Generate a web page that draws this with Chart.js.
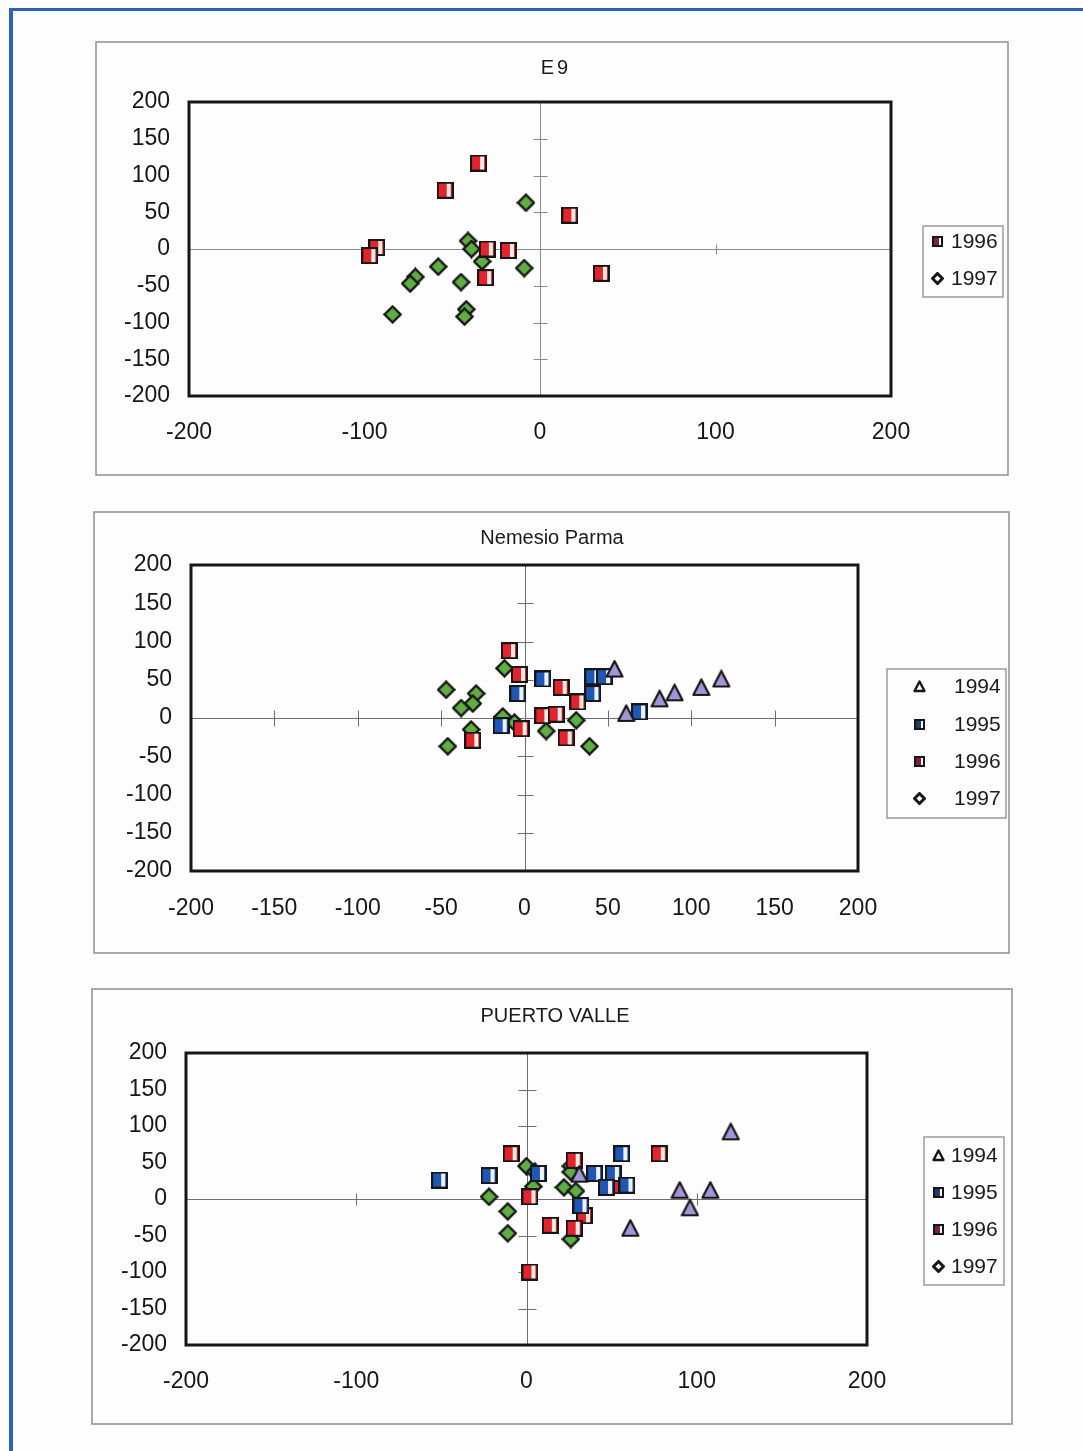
<!DOCTYPE html>
<html>
<head>
<meta charset="utf-8">
<script src="https://cdn.jsdelivr.net/npm/chart.js@4.4.1/dist/chart.umd.min.js"></script>
<style>
  body { margin: 0; background: #fdfdfd; width: 1083px; height: 1451px; position: relative; overflow: hidden; }
  #edgeTop { position: absolute; left: 9px; top: 8px; width: 1074px; height: 3px; background: #2a64b4; }
  #edgeLeft { position: absolute; left: 9px; top: 8px; width: 4px; height: 1443px; background: #2a64b4; }
  canvas { position: absolute; }
</style>
</head>
<body>
<div id="edgeTop"></div>
<div id="edgeLeft"></div>
<canvas id="e9" width="914" height="435" style="left:95px;top:41px"></canvas>
<canvas id="nemesio" width="917" height="443" style="left:93px;top:511px"></canvas>
<canvas id="puerto" width="922" height="437" style="left:91px;top:988px"></canvas>
<script>
// ---- data: [x, y] pairs ----
const e9_1996 = [[-35, 117], [-54, 80], [17, 46], [35, -33], [-93, 2], [-97, -9], [-30, 0], [-18, -2], [-31, -39]];
const e9_1997 = [[-8, 63], [-41, 11], [-39, 0], [-33, -17], [-9, -26], [-58, -24], [-71, -38], [-74, -47],
                 [-45, -45], [-84, -89], [-42, -82], [-43, -92]];

const np_1994 = [[54, 64], [61, 6], [81, 25], [90, 33], [106, 40], [118, 51]];
const np_1995 = [[11, 51], [41, 54], [48, 54], [41, 32], [-4, 32], [69, 8], [-14, -10]];
const np_1996 = [[-9, 88], [-3, 57], [22, 40], [32, 21], [11, 3], [19, 5], [-2, -14], [25, -26], [-31, -29]];
const np_1997 = [[-12, 65], [-47, 37], [-29, 32], [-31, 19], [-38, 13], [-13, 2], [-6, -6], [-32, -15],
                 [13, -17], [31, -3], [-46, -37], [39, -37]];

const pv_1994 = [[120, 92], [61, -40], [90, 12], [108, 12], [96, -12], [31, 34]];
const pv_1995 = [[-51, 26], [-22, 32], [56, 62], [40, 35], [51, 35], [47, 16], [59, 19], [32, -9], [7, 35]];
const pv_1996 = [[-9, 62], [78, 62], [28, 53], [55, 18], [2, 3], [34, -23], [14, -36], [28, -40], [2, -100]];
const pv_1997 = [[0, 45], [5, 37], [4, 17], [-22, 3], [-11, -17], [-11, -47], [26, 45], [26, 37], [22, 16],
                 [29, 11], [26, -55]];

const axisMin = -200, axisMax = 200, yStep = 50;

// ---- marker images ----
function squareMark(size, fill, stripe) {
  const c = document.createElement('canvas');
  c.width = c.height = size;
  const g = c.getContext('2d');
  g.fillStyle = '#161616'; g.fillRect(0, 0, size, size);
  g.fillStyle = fill; g.fillRect(2, 2, size - 4, size - 4);
  g.fillStyle = stripe; g.fillRect(Math.round(size * 0.6), 2, Math.round(size * 0.22), size - 4);
  return c;
}
function diamondMark(size, fill, line) {
  const c = document.createElement('canvas');
  c.width = c.height = size;
  const g = c.getContext('2d'), h = size / 2, r = h - 1.5;
  g.beginPath();
  g.moveTo(h, h - r); g.lineTo(h + r, h); g.lineTo(h, h + r); g.lineTo(h - r, h); g.closePath();
  g.fillStyle = fill; g.fill();
  g.lineWidth = line; g.strokeStyle = '#161616'; g.stroke();
  return c;
}
function triangleMark(size, fill, line) {
  const c = document.createElement('canvas');
  c.width = c.height = size;
  const g = c.getContext('2d'), h = size / 2;
  g.beginPath();
  g.moveTo(h, 1.5); g.lineTo(size - 1.5, size - 2); g.lineTo(1.5, size - 2); g.closePath();
  g.fillStyle = fill; g.fill();
  g.lineWidth = line; g.strokeStyle = '#161616'; g.lineJoin = 'round'; g.stroke();
  return c;
}

const marks = {
  '1994': triangleMark(19, '#a594d8', 2.2),
  '1995': squareMark(17, '#1f57b8', '#eef2fa'),
  '1996': squareMark(17, '#e4232c', '#f8ece4'),
  '1997': diamondMark(19, '#5fae41', 2.4)
};
const legendMarks = {
  '1994': triangleMark(13, '#ffffff', 2.4),
  '1995': squareMark(11, '#1e3d6b', '#ffffff'),
  '1996': squareMark(11, '#7c2433', '#ffffff'),
  '1997': diamondMark(13, '#ffffff', 3)
};

function series(label, pairs) {
  return {
    label: label,
    data: pairs.map(p => ({ x: p[0], y: p[1] })),
    pointStyle: marks[label],
    pointRadius: 8
  };
}

// frame, centre axes, title and legend box
const decor = {
  id: 'decor',
  beforeDatasetsDraw(chart, args, o) {
    const { ctx, chartArea: a, scales: { x, y } } = chart;
    const x0 = Math.round(x.getPixelForValue(0)) + 0.5;
    const y0 = Math.round(y.getPixelForValue(0)) + 0.5;
    ctx.save();
    ctx.strokeStyle = o.axisColor;
    ctx.lineWidth = 1;
    ctx.beginPath();
    ctx.moveTo(a.left, y0); ctx.lineTo(a.right, y0);
    ctx.moveTo(x0, a.top); ctx.lineTo(x0, a.bottom);
    for (let v = axisMin + yStep; v < axisMax; v += yStep) {
      if (v === 0) continue;
      const p = Math.round(y.getPixelForValue(v)) + 0.5;
      ctx.moveTo(x0 - o.yMark, p); ctx.lineTo(x0 + o.yMark, p);
    }
    o.xMarks.forEach(v => {
      const p = Math.round(x.getPixelForValue(v)) + 0.5;
      ctx.moveTo(p, y0 - o.xMark); ctx.lineTo(p, y0 + o.xMark);
    });
    ctx.stroke();
    ctx.restore();
  },
  afterDraw(chart, args, o) {
    const { ctx, chartArea: a, width, height } = chart;
    ctx.save();
    // outer gray box
    ctx.strokeStyle = '#8e8e8e';
    ctx.lineWidth = 1.5;
    ctx.strokeRect(1, 1, width - 2, height - 2);
    // plot frame
    ctx.strokeStyle = '#161616';
    ctx.lineWidth = 3;
    ctx.strokeRect(a.left, a.top, a.right - a.left, a.bottom - a.top);
    // title
    ctx.fillStyle = '#1a1a1a';
    ctx.font = '20px "Liberation Sans", Arial, sans-serif';
    ctx.textAlign = 'center';
    ctx.textBaseline = 'middle';
    if (o.titleSpacing) ctx.letterSpacing = o.titleSpacing;
    ctx.fillText(o.title, o.titleX, o.titleY);
    ctx.letterSpacing = '0px';
    // legend
    const L = o.legend;
    ctx.strokeStyle = '#9a9a9a';
    ctx.lineWidth = 1.5;
    ctx.strokeRect(L.box[0], L.box[1], L.box[2] - L.box[0], L.box[3] - L.box[1]);
    ctx.font = '21px "Liberation Sans", Arial, sans-serif';
    ctx.textAlign = 'left';
    chart.data.datasets.forEach((ds, i) => {
      const m = legendMarks[ds.label], yy = L.rows[i];
      ctx.drawImage(m, Math.round(L.markX - m.width / 2), Math.round(yy - m.height / 2));
      ctx.fillText(ds.label, L.textX, yy + 1);
    });
    ctx.restore();
  }
};

function makeChart(id, datasets, p) {
  const font = { family: '"Liberation Sans", Arial, sans-serif', size: 23 };
  const canvas = document.getElementById(id);
  return new Chart(canvas, {
    type: 'scatter',
    data: { datasets: datasets },
    plugins: [decor],
    options: {
      responsive: false,
      animation: false,
      events: [],
      layout: { padding: { left: 0, top: p.top, right: canvas.width - p.right, bottom: canvas.height - p.bottom - 50 } },
      scales: {
        x: {
          type: 'linear', min: axisMin, max: axisMax,
          ticks: { stepSize: p.xStep, font: font, color: '#161616', padding: p.xPad, maxRotation: 0, autoSkip: false },
          grid: { display: false, drawTicks: false },
          border: { display: false },
          afterFit(s) { s.height = 50; }
        },
        y: {
          type: 'linear', min: axisMin, max: axisMax,
          ticks: { stepSize: yStep, font: font, color: '#161616', padding: 19, autoSkip: false },
          grid: { display: false, drawTicks: false },
          border: { display: false },
          afterFit(s) { s.width = p.left; }
        }
      },
      plugins: {
        legend: { display: false },
        tooltip: { enabled: false },
        decor: p.decor
      }
    }
  });
}

makeChart('e9', [series('1996', e9_1996), series('1997', e9_1997)], {
  left: 94, top: 61, right: 796, bottom: 355, xStep: 100, xPad: 23,
  decor: {
    title: 'E9', titleX: 461, titleY: 27, titleSpacing: '3px',
    axisColor: '#8a8a8a', yMark: 7, xMark: 5, xMarks: [100],
    legend: { box: [828, 185, 908, 256], rows: [200, 237], markX: 842, textX: 856 }
  }
});

makeChart('nemesio', [series('1994', np_1994), series('1995', np_1995), series('1996', np_1996), series('1997', np_1997)], {
  left: 98, top: 54, right: 765, bottom: 360, xStep: 50, xPad: 24,
  decor: {
    title: 'Nemesio Parma', titleX: 459, titleY: 27,
    axisColor: '#6e6e6e', yMark: 8, xMark: 8, xMarks: [-150, -100, -50, 50, 100, 150],
    legend: { box: [794, 158, 913, 307], rows: [175, 213, 250, 287], markX: 826, textX: 861 }
  }
});

makeChart('puerto', [series('1994', pv_1994), series('1995', pv_1995), series('1996', pv_1996), series('1997', pv_1997)], {
  left: 95, top: 65, right: 776, bottom: 357, xStep: 100, xPad: 23,
  decor: {
    title: 'PUERTO VALLE', titleX: 464, titleY: 28,
    axisColor: '#6e6e6e', yMark: 9, xMark: 6, xMarks: [-100, 100],
    legend: { box: [833, 149, 913, 297], rows: [167, 204, 241, 278], markX: 847, textX: 860 }
  }
});
</script>
</body>
</html>
